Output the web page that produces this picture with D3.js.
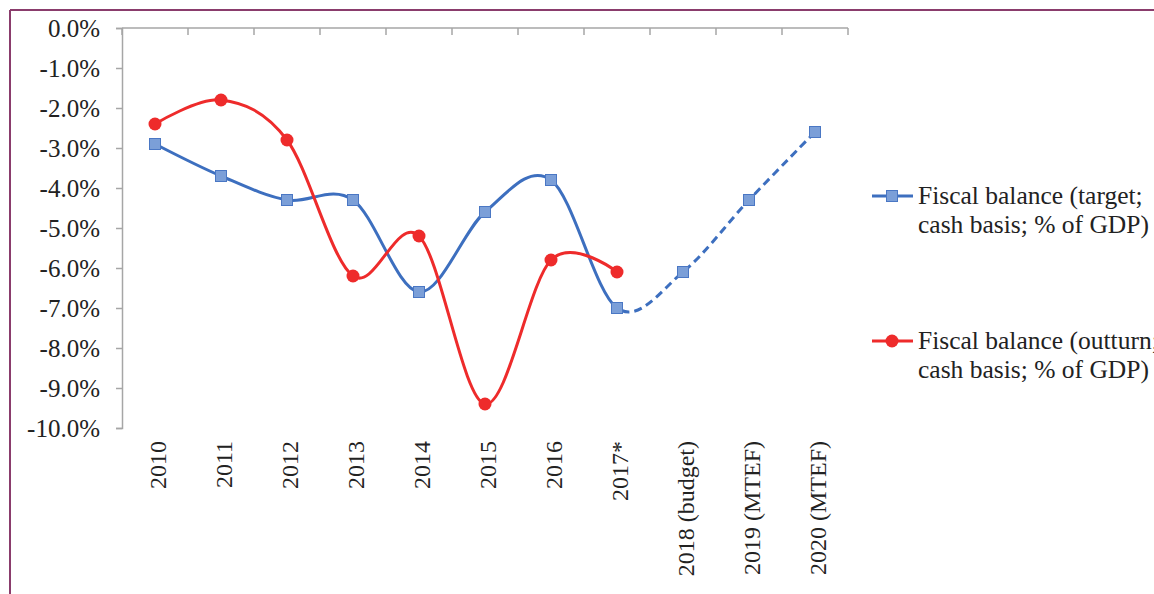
<!DOCTYPE html>
<html>
<head>
<meta charset="utf-8">
<script src="https://cdn.jsdelivr.net/npm/d3@7"></script>
<style>
  html, body { margin: 0; padding: 0; background: #fff; }
  svg { display: block; overflow: hidden; }
  text { font-family: "Liberation Serif", "Times New Roman", serif; fill: #222; }
</style>
</head>
<body>
<svg id="chart" width="1154" height="594"></svg>
<script>
// Fiscal balance, % of GDP
const categories = ["2010", "2011", "2012", "2013", "2014", "2015", "2016", "2017*",
                    "2018 (budget)", "2019 (MTEF)", "2020 (MTEF)"];
const targetValues  = [-2.9, -3.7, -4.3, -4.3, -6.6, -4.6, -3.8, -7.0, -6.1, -4.3, -2.6];
const outturnValues = [-2.4, -1.8, -2.8, -6.2, -5.2, -9.4, -5.8, -6.1];
const yTicks = [0, -1, -2, -3, -4, -5, -6, -7, -8, -9, -10];
const legendLabels = [
  ["Fiscal balance (target;", "cash basis; % of GDP)"],
  ["Fiscal balance (outturn;", "cash basis; % of GDP)"]
];
// index of the last actual year; later target points are projections
const lastActual = 7;

const svg = d3.select("#chart");
const W = 1154, H = 594;

// outer frame
svg.append("line").attr("x1", 10).attr("y1", 10).attr("x2", W).attr("y2", 10)
  .attr("stroke", "#8a3c6c").attr("stroke-width", 2);
svg.append("line").attr("x1", 10).attr("y1", 10).attr("x2", 10).attr("y2", H)
  .attr("stroke", "#8a3c6c").attr("stroke-width", 2);

const plotLeft = 122, plotRight = 848, plotTop = 28, plotBottom = 428;

const x = d3.scaleBand().domain(categories).range([plotLeft, plotRight]).padding(0);
const cx = c => x(c) + x.bandwidth() / 2;
const y = d3.scaleLinear().domain([-10, 0]).range([plotBottom, plotTop]);

const axisColor = "#a6a6a6";

// value axis (plain hyphen for negatives)
const yAxis = svg.append("g")
  .attr("transform", `translate(${plotLeft},0)`)
  .call(d3.axisLeft(y).tickValues(yTicks).tickSize(6).tickPadding(16)
        .tickFormat(d => (d === 0 ? 0 : d).toFixed(1) + "%"));
yAxis.select(".domain").attr("stroke", axisColor).attr("stroke-width", 1.5);
yAxis.selectAll(".tick line").attr("stroke", axisColor).attr("stroke-width", 1.5);
yAxis.selectAll(".tick text")
  .style("font-family", "'Liberation Serif', serif")
  .style("font-size", "25px").attr("fill", "#222");

// category axis along the zero line, ticks at band edges
const catAxis = svg.append("g");
catAxis.append("line")
  .attr("x1", plotLeft).attr("x2", plotRight)
  .attr("y1", y(0)).attr("y2", y(0))
  .attr("stroke", axisColor).attr("stroke-width", 1.5);
const edges = categories.map(c => x(c)).concat([x.range()[1]]);
catAxis.selectAll("line.edge").data(edges).join("line")
  .attr("class", "edge")
  .attr("x1", d => d).attr("x2", d => d)
  .attr("y1", y(0)).attr("y2", y(0) + 7)
  .attr("stroke", axisColor).attr("stroke-width", 1.5);

// category labels below the plot, rotated
svg.append("g").selectAll("text").data(categories).join("text")
  .attr("transform", d => `translate(${cx(d) + 11},${plotBottom + 13}) rotate(-90)`)
  .attr("text-anchor", "end")
  .style("font-size", "24px")
  .text(d => d);

const line = d3.line()
  .x((d, i) => cx(categories[i]))
  .y(d => y(d))
  .curve(d3.curveCardinal.tension(0));

const blue = "#3d6fbf", blueFill = "#7b9fd8", red = "#ee2b2b";

// clip regions: actual years solid, projections dashed
const defs = svg.append("defs");
const splitX = cx(categories[lastActual]);
defs.append("clipPath").attr("id", "clipActual")
  .append("rect").attr("x", 0).attr("y", 0).attr("width", splitX).attr("height", H);
defs.append("clipPath").attr("id", "clipProj")
  .append("rect").attr("x", splitX).attr("y", 0).attr("width", W - splitX).attr("height", H);

// target series
svg.append("path").datum(targetValues)
  .attr("d", line).attr("fill", "none")
  .attr("stroke", blue).attr("stroke-width", 3)
  .attr("clip-path", "url(#clipActual)");
svg.append("path").datum(targetValues)
  .attr("d", line).attr("fill", "none")
  .attr("stroke", blue).attr("stroke-width", 3)
  .attr("stroke-dasharray", "8,5")
  .attr("clip-path", "url(#clipProj)");

// outturn series
svg.append("path").datum(outturnValues)
  .attr("d", line).attr("fill", "none")
  .attr("stroke", red).attr("stroke-width", 3);

const sq = 11;
svg.append("g").selectAll("rect").data(targetValues).join("rect")
  .attr("x", (d, i) => cx(categories[i]) - sq / 2)
  .attr("y", d => y(d) - sq / 2)
  .attr("width", sq).attr("height", sq)
  .attr("fill", blueFill).attr("stroke", "#4a77c4").attr("stroke-width", 1);

svg.append("g").selectAll("circle").data(outturnValues).join("circle")
  .attr("cx", (d, i) => cx(categories[i]))
  .attr("cy", d => y(d))
  .attr("r", 6.5)
  .attr("fill", red);

// legend
const legendY = [196, 341];
const legend = svg.append("g");
legendLabels.forEach((lines, k) => {
  const ly = legendY[k];
  const color = k === 0 ? blue : red;
  legend.append("line").attr("x1", 872).attr("x2", 913).attr("y1", ly).attr("y2", ly)
    .attr("stroke", color).attr("stroke-width", 3);
  if (k === 0) {
    legend.append("rect").attr("x", 892 - sq / 2).attr("y", ly - sq / 2)
      .attr("width", sq).attr("height", sq)
      .attr("fill", blueFill).attr("stroke", "#4a77c4").attr("stroke-width", 1);
  } else {
    legend.append("circle").attr("cx", 892).attr("cy", ly).attr("r", 6.5).attr("fill", red);
  }
  lines.forEach((t, j) => {
    legend.append("text")
      .attr("x", 918).attr("y", ly + j * 29)
      .attr("dy", "0.33em")
      .style("font-size", "25.5px")
      .text(t);
  });
});
</script>
</body>
</html>
